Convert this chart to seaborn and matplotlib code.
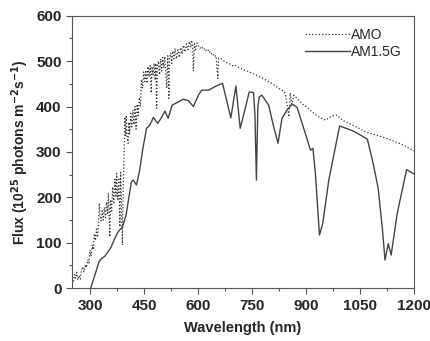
import pandas as pd
import seaborn as sns
import matplotlib.pyplot as plt
from matplotlib.ticker import MultipleLocator

# === AM0 spectrum ===
amo_wl = [250, 254, 257, 260, 263, 266, 270, 273, 276, 280, 283, 287, 290, 294, 297,
          300, 303, 306, 309, 312, 315, 318, 321, 324, 326, 328, 331, 334, 337, 340,
          343, 346, 349, 351, 353, 355, 357, 360, 363, 366, 369, 372, 374, 377, 380,
          383, 385, 387, 390, 392, 395, 397, 399, 401, 403, 406, 408, 410, 413, 416,
          419, 422, 425, 428, 431, 434, 437, 440, 443, 446, 449, 452, 455, 458, 461,
          464, 467, 470, 472, 475, 478, 481, 483, 485, 487, 490, 493, 496, 499, 502,
          505, 508, 511, 513, 516, 519, 521, 524, 527, 530, 533, 536, 540, 544, 548,
          552, 556, 560, 564, 568, 572, 576, 580, 582, 585, 587, 590, 593, 597, 600,
          605, 610, 615, 619, 624, 630, 635, 640, 645, 650, 655, 657,
          665, 675, 685, 695, 703, 715, 725, 740, 755, 768, 780, 796, 810, 824, 835,
          842, 848, 852, 856, 860, 866, 872, 880, 890, 900, 917, 930, 940, 954, 965,
          975, 986, 1000, 1019, 1040, 1065, 1090, 1112, 1130, 1149, 1170, 1195, 1200]
amo_flux = [8, 15, 30, 22, 35, 18, 28, 20, 38, 47, 36, 52, 45, 62, 55,
            84, 70, 95, 85, 120, 105, 130, 112, 150, 187, 158, 148, 170, 150, 178,
            155, 190, 165, 209, 170, 113, 195, 170, 223, 185, 240, 200, 253, 195, 240,
            135, 255, 200, 95, 216, 304, 377, 335, 381, 330, 319, 365, 340, 385, 355,
            392, 360, 400, 350, 405, 380, 420, 400, 460, 440, 476, 455, 480, 451, 488,
            465, 490, 430, 488, 470, 495, 458, 495, 396, 485, 500, 470, 505, 478, 508,
            485, 510, 470, 440, 512, 418, 505, 518, 495, 522, 505, 528, 505, 525, 508,
            530, 515, 535, 520, 538, 525, 543, 530, 546, 535, 478, 538, 525, 540, 535,
            528, 532, 525, 528, 521, 525, 515, 518, 510, 512, 462, 506,
            505, 498, 495, 490, 491, 485, 482, 477, 472, 466, 462, 455, 448, 440, 435,
            429, 400, 377, 430, 405, 425, 420, 414, 405, 400, 388, 380, 375, 370, 376,
            380, 381, 370, 363, 355, 344, 338, 333, 328, 322, 315, 304, 303]

# === AM1.5G spectrum ===
am15_wl = [302, 310, 318, 325, 333, 341, 350, 359, 368, 378, 390, 400, 407, 415, 420,
           425, 429, 434, 438, 446, 452, 457, 466, 476, 488, 498, 508, 517, 528, 545,
           559, 573, 587, 601, 610, 629, 650, 668, 691, 705, 717, 731, 742, 754, 758,
           762, 766, 770, 777, 796, 810, 822, 833, 847, 861, 866, 875, 898, 912, 919,
           926, 937, 946, 963, 993, 1028, 1051, 1070, 1086, 1100, 1112, 1119, 1128, 1136, 1153,
           1179, 1200]
am15_flux = [0, 20, 40, 58, 66, 70, 80, 91, 108, 124, 135, 160, 195, 234, 238,
             232, 227, 245, 260, 304, 330, 352, 359, 376, 363, 375, 390, 374, 403, 410,
             416, 413, 400, 425, 436, 436, 445, 451, 375, 445, 352, 396, 432, 431, 380,
             238, 400, 421, 425, 403, 355, 319, 374, 392, 405, 403, 398, 340, 304, 308,
             250, 117, 142, 238, 357, 347, 337, 328, 275, 220, 128, 62, 98, 73, 165,
             261, 251]

amo = pd.DataFrame({'wl': amo_wl, 'flux': amo_flux})
am15 = pd.DataFrame({'wl': am15_wl, 'flux': am15_flux})

sns.set_style('ticks')
plt.rcParams['font.family'] = ['Liberation Sans', 'DejaVu Sans']

fig = plt.figure(figsize=(4.31, 3.41), dpi=100)
ax = fig.add_axes([0.167, 0.155, 0.794, 0.799])

sns.lineplot(data=amo, x='wl', y='flux', ax=ax, color='#333333', lw=0.9,
             linestyle=':', estimator=None, sort=False, label='AMO')
sns.lineplot(data=am15, x='wl', y='flux', ax=ax, color='#444444', lw=1.0,
             linestyle='-', estimator=None, sort=False, label='AM1.5G')

ax.set_xlim(250, 1200)
ax.set_ylim(0, 600)
ax.xaxis.set_minor_locator(MultipleLocator(75))
ax.yaxis.set_major_locator(MultipleLocator(100))
ax.yaxis.set_minor_locator(MultipleLocator(50))
ax.set_xticks([300, 450, 600, 750, 900, 1050, 1200])

ax.tick_params(which='major', direction='out', length=4, width=0.8, labelsize=11, color='#555555')
ax.tick_params(which='minor', direction='out', length=2.5, width=0.8, color='#555555')
for lab in ax.get_xticklabels() + ax.get_yticklabels():
    lab.set_fontweight('bold')
for sp in ax.spines.values():
    sp.set_visible(True)
    sp.set_color('#555555')
    sp.set_linewidth(0.8)

ax.set_xlabel('Wavelength (nm)', fontsize=10.5, fontweight='bold', labelpad=6)
ax.set_ylabel('Flux (10$^{\\mathbf{25}}$ photons m$^{\\mathbf{-2}}$s$^{\\mathbf{-1}}$)',
              fontsize=10, fontweight='bold', labelpad=4)

ax.legend(loc='upper right', frameon=False, fontsize=10, handlelength=3.2,
          handletextpad=0.1, labelspacing=0.2, borderaxespad=0.5)

fig.savefig('out.png', dpi=100)
